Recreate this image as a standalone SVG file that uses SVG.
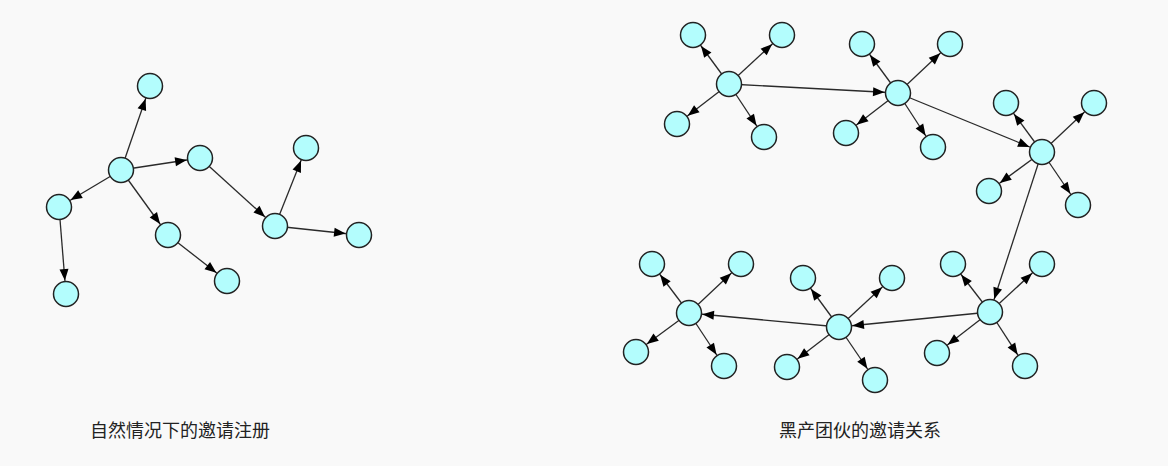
<svg xmlns="http://www.w3.org/2000/svg" width="1168" height="466" viewBox="0 0 1168 466">
<style>
.n{fill:#b3fdfd;stroke:#222;stroke-width:1.5}
.e{stroke:#2a2a2a;stroke-width:1.3;fill:none;marker-end:url(#ah)}
.t{font-family:"Noto Sans CJK SC","Noto Sans",sans-serif;font-size:18px;fill:#222;text-anchor:middle}
</style>
<defs>
<marker id="ah" markerUnits="userSpaceOnUse" markerWidth="27" markerHeight="10" refX="25" refY="4.5" orient="auto" overflow="visible">
<path d="M0,0 L11.5,4.5 L0,9 z" fill="#000"/>
</marker>
</defs>
<rect width="1168" height="466" fill="#f9f9f9"/>
<g id="connectors">
<line class="e" x1="121" y1="170" x2="150" y2="86"/>
<line class="e" x1="121" y1="170" x2="200" y2="158"/>
<line class="e" x1="121" y1="170" x2="59" y2="207"/>
<line class="e" x1="121" y1="170" x2="168" y2="235"/>
<line class="e" x1="59" y1="207" x2="66" y2="294"/>
<line class="e" x1="168" y1="235" x2="227" y2="281"/>
<line class="e" x1="200" y1="158" x2="275" y2="226"/>
<line class="e" x1="275" y1="226" x2="306" y2="148"/>
<line class="e" x1="275" y1="226" x2="359" y2="235"/>

<line class="e" x1="729" y1="84" x2="898" y2="93"/>
<line class="e" x1="898" y1="93" x2="1042" y2="152"/>
<line class="e" x1="1042" y1="152" x2="990" y2="312"/>
<line class="e" x1="990" y1="312" x2="839" y2="327"/>
<line class="e" x1="839" y1="327" x2="689" y2="313"/>

<line class="e" x1="729" y1="84" x2="693" y2="35"/>
<line class="e" x1="729" y1="84" x2="782" y2="35"/>
<line class="e" x1="729" y1="84" x2="677" y2="124"/>
<line class="e" x1="729" y1="84" x2="764" y2="137"/>

<line class="e" x1="898" y1="93" x2="862" y2="44"/>
<line class="e" x1="898" y1="93" x2="950" y2="44"/>
<line class="e" x1="898" y1="93" x2="846" y2="133"/>
<line class="e" x1="898" y1="93" x2="933" y2="147"/>

<line class="e" x1="1042" y1="152" x2="1006" y2="103"/>
<line class="e" x1="1042" y1="152" x2="1094" y2="103"/>
<line class="e" x1="1042" y1="152" x2="989" y2="191"/>
<line class="e" x1="1042" y1="152" x2="1078" y2="205"/>

<line class="e" x1="689" y1="313" x2="652" y2="264"/>
<line class="e" x1="689" y1="313" x2="741" y2="264"/>
<line class="e" x1="689" y1="313" x2="636" y2="352"/>
<line class="e" x1="689" y1="313" x2="724" y2="366"/>

<line class="e" x1="839" y1="327" x2="803" y2="278"/>
<line class="e" x1="839" y1="327" x2="892" y2="278"/>
<line class="e" x1="839" y1="327" x2="787" y2="367"/>
<line class="e" x1="839" y1="327" x2="875" y2="380"/>

<line class="e" x1="990" y1="312" x2="953" y2="264"/>
<line class="e" x1="990" y1="312" x2="1042" y2="264"/>
<line class="e" x1="990" y1="312" x2="937" y2="353"/>
<line class="e" x1="990" y1="312" x2="1025" y2="366"/>
</g>
<g id="nodes-left">
<circle id="l-top" class="n" cx="150" cy="86" r="12.5"/>
<circle id="l-hub" class="n" cx="121" cy="170" r="12.5"/>
<circle id="l-b" class="n" cx="200" cy="158" r="12.5"/>
<circle id="l-c" class="n" cx="59" cy="207" r="12.5"/>
<circle id="l-d" class="n" cx="168" cy="235" r="12.5"/>
<circle id="l-e" class="n" cx="66" cy="294" r="12.5"/>
<circle id="l-f" class="n" cx="227" cy="281" r="12.5"/>
<circle id="l-g" class="n" cx="275" cy="226" r="12.5"/>
<circle id="l-h" class="n" cx="306" cy="148" r="12.5"/>
<circle id="l-i" class="n" cx="359" cy="235" r="12.5"/>
</g>
<g id="nodes-right">
<circle id="h1" class="n" cx="729" cy="84" r="12.5"/>
<circle id="h1a" class="n" cx="693" cy="35" r="12.5"/>
<circle id="h1b" class="n" cx="782" cy="35" r="12.5"/>
<circle id="h1c" class="n" cx="677" cy="124" r="12.5"/>
<circle id="h1d" class="n" cx="764" cy="137" r="12.5"/>
<circle id="h2" class="n" cx="898" cy="93" r="12.5"/>
<circle id="h2a" class="n" cx="862" cy="44" r="12.5"/>
<circle id="h2b" class="n" cx="950" cy="44" r="12.5"/>
<circle id="h2c" class="n" cx="846" cy="133" r="12.5"/>
<circle id="h2d" class="n" cx="933" cy="147" r="12.5"/>
<circle id="h3" class="n" cx="1042" cy="152" r="12.5"/>
<circle id="h3a" class="n" cx="1006" cy="103" r="12.5"/>
<circle id="h3b" class="n" cx="1094" cy="103" r="12.5"/>
<circle id="h3c" class="n" cx="989" cy="191" r="12.5"/>
<circle id="h3d" class="n" cx="1078" cy="205" r="12.5"/>
<circle id="h4" class="n" cx="689" cy="313" r="12.5"/>
<circle id="h4a" class="n" cx="652" cy="264" r="12.5"/>
<circle id="h4b" class="n" cx="741" cy="264" r="12.5"/>
<circle id="h4c" class="n" cx="636" cy="352" r="12.5"/>
<circle id="h4d" class="n" cx="724" cy="366" r="12.5"/>
<circle id="h5" class="n" cx="839" cy="327" r="12.5"/>
<circle id="h5a" class="n" cx="803" cy="278" r="12.5"/>
<circle id="h5b" class="n" cx="892" cy="278" r="12.5"/>
<circle id="h5c" class="n" cx="787" cy="367" r="12.5"/>
<circle id="h5d" class="n" cx="875" cy="380" r="12.5"/>
<circle id="h6" class="n" cx="990" cy="312" r="12.5"/>
<circle id="h6a" class="n" cx="953" cy="264" r="12.5"/>
<circle id="h6b" class="n" cx="1042" cy="264" r="12.5"/>
<circle id="h6c" class="n" cx="937" cy="353" r="12.5"/>
<circle id="h6d" class="n" cx="1025" cy="366" r="12.5"/>
</g>
<g id="labels">
<text class="t" x="180" y="437">自然情况下的邀请注册</text>
<text class="t" x="860" y="437">黑产团伙的邀请关系</text>
</g>
</svg>
